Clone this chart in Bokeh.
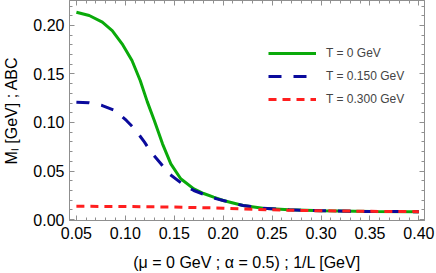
from bokeh.plotting import figure
from bokeh.models import (Range1d, FixedTicker, LinearAxis, PrintfTickFormatter,
                          CustomJSTickFormatter, Legend, LegendItem)
from bokeh.embed import file_html
from bokeh.resources import INLINE

# ---- data ----
x_t0 = [0.0500, 0.0631, 0.0765, 0.0866, 0.0967, 0.1068, 0.1152, 0.1224, 0.1296, 0.1380,
        0.1465, 0.1566, 0.1700, 0.1800, 0.1902, 0.2000, 0.2203, 0.2405, 0.2674, 0.3010,
        0.3514, 0.4000]
m_t0 = [0.2137, 0.2103, 0.2034, 0.1948, 0.1811, 0.1639, 0.1433, 0.1215, 0.1021, 0.0780,
        0.0574, 0.0420, 0.0316, 0.0268, 0.0230, 0.0196, 0.0144, 0.0117, 0.0100, 0.0090,
        0.0082, 0.0081]

x_t150 = [0.0500, 0.0630, 0.0765, 0.0893, 0.1011, 0.1095, 0.1196, 0.1263, 0.1364, 0.1448,
          0.1582, 0.1700, 0.1834, 0.1934, 0.2000, 0.2203, 0.2405, 0.2674, 0.3010, 0.3514,
          0.4000]
m_t150 = [0.1209, 0.1203, 0.1175, 0.1124, 0.1021, 0.0935, 0.0797, 0.0694, 0.0574, 0.0471,
          0.0368, 0.0299, 0.0247, 0.0213, 0.0196, 0.0144, 0.0117, 0.0100, 0.0090, 0.0082,
          0.0081]

x_t300 = [0.050, 0.100, 0.150, 0.200, 0.230, 0.260, 0.300, 0.350, 0.400]
m_t300 = [0.0136, 0.0134, 0.0128, 0.0117, 0.0105, 0.0097, 0.0090, 0.0084, 0.0081]

series_labels = ["T = 0 GeV", "T = 0.150 GeV", "T = 0.300 GeV"]
x_ticks = [0.05, 0.10, 0.15, 0.20, 0.25, 0.30, 0.35, 0.40]
y_ticks = [0.00, 0.05, 0.10, 0.15, 0.20]
x_minor = [round(0.04 + 0.01 * i, 2) for i in range(0, 38)]
y_minor = [round(0.01 * i, 2) for i in range(0, 23)]
x_title = "(μ = 0 GeV ; α = 0.5) ; 1/L [GeV]"
y_title = "Mₗ [GeV] ; ABC"

# ---- styling ----
FONT = "Liberation Sans"
GRAY = "#8f8f8f"
X0, X1 = 0.04295, 0.40574
Y0, Y1 = -0.00103, 0.22577

p = figure(width=436, height=273, output_backend="svg", toolbar_location=None,
           title=None, x_range=Range1d(X0, X1), y_range=Range1d(Y0, Y1),
           min_border_left=64, min_border_right=12, min_border_top=0,
           min_border_bottom=53, x_axis_type=None, y_axis_type=None)
p.background_fill_color = "white"
p.border_fill_color = "white"
p.outline_line_color = GRAY
p.outline_line_width = 1
p.grid.visible = False


def style_axis(ax, labels=True):
    ax.axis_line_color = GRAY
    ax.major_tick_line_color = GRAY
    ax.minor_tick_line_color = GRAY
    ax.major_tick_in = 5
    ax.major_tick_out = 0
    ax.minor_tick_in = 3
    ax.minor_tick_out = 0
    ax.major_label_text_font = FONT
    ax.major_label_text_font_size = "16px"
    ax.major_label_text_color = "black"
    ax.axis_label_text_font = FONT
    ax.axis_label_text_font_size = "16px"
    ax.axis_label_text_font_style = "normal"
    ax.axis_label_text_color = "black"
    if not labels:
        ax.formatter = CustomJSTickFormatter(code="return ''")
        ax.major_label_text_font_size = "0px"
        ax.major_label_standoff = 0


xb = LinearAxis(ticker=FixedTicker(ticks=x_ticks, minor_ticks=x_minor),
                formatter=PrintfTickFormatter(format="%.2f"))
style_axis(xb)
xb.major_label_standoff = 6
xb.axis_label = x_title
xb.axis_label_standoff = 12
p.add_layout(xb, "below")

yl = LinearAxis(ticker=FixedTicker(ticks=y_ticks, minor_ticks=y_minor),
                formatter=PrintfTickFormatter(format="%.2f"))
style_axis(yl)
yl.major_label_standoff = 5
yl.axis_label = y_title
yl.axis_label_standoff = 10
p.add_layout(yl, "left")

xt = LinearAxis(ticker=FixedTicker(ticks=x_ticks, minor_ticks=x_minor))
style_axis(xt, labels=False)
p.add_layout(xt, "above")

yr = LinearAxis(ticker=FixedTicker(ticks=y_ticks, minor_ticks=y_minor))
style_axis(yr, labels=False)
p.add_layout(yr, "right")

# ---- curves ----
r0 = p.line(x_t0, m_t0, line_color="#0aaa0a", line_width=3)
r1 = p.line(x_t150, m_t150, line_color="#0a0a9c", line_width=3, line_dash="13 12")
r2 = p.line(x_t300, m_t300, line_color="#ff1f1f", line_width=3, line_dash="8 6")

legend = Legend(items=[LegendItem(label=series_labels[0], renderers=[r0]),
                       LegendItem(label=series_labels[1], renderers=[r1]),
                       LegendItem(label=series_labels[2], renderers=[r2])],
                location=(199, 111), padding=0, margin=0, spacing=3,
                glyph_width=48, glyph_height=20, label_height=20,
                label_standoff=10, label_text_font=FONT,
                label_text_font_size="12px", border_line_color=None,
                background_fill_alpha=0)
p.add_layout(legend)

open("out.html", "w").write(file_html(p, INLINE))
